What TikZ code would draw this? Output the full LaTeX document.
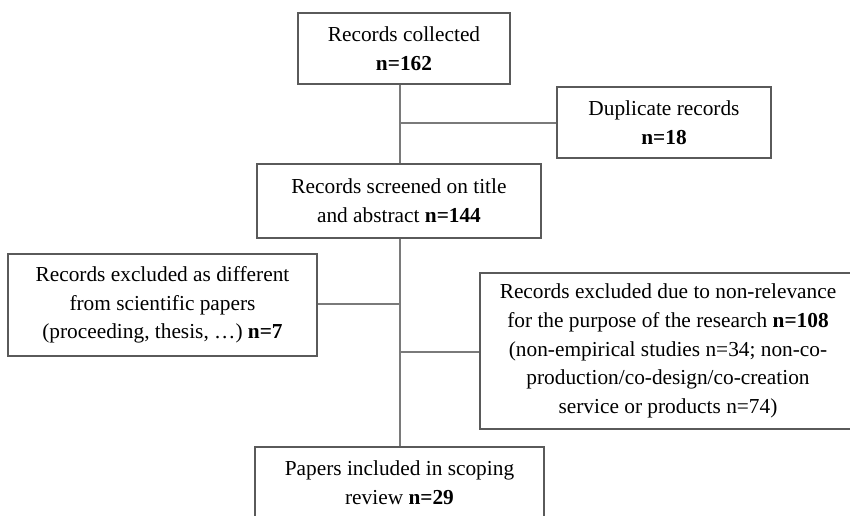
\documentclass[tikz,border=0pt]{standalone}
\usepackage{fontspec}
\setmainfont{Liberation Serif}
\definecolor{boxcol}{HTML}{5A5A5A}
\definecolor{linecol}{HTML}{7A7A7A}
\tikzset{
  box/.style={draw=boxcol, fill=white, line width=0.9pt, align=center, inner sep=0pt,
    font=\fontsize{16}{21.5}\selectfont},
  conn/.style={draw=linecol, line width=1.1pt}
}
\begin{document}
\begin{tikzpicture}[x=0.75pt,y=-0.75pt]
\useasboundingbox (0,0) rectangle (850,516);
% boxes (centres in px)
\node[box, minimum width=212*0.75pt, minimum height=71*0.75pt] (b1) at (404,48.5)
  {Records collected\\\textbf{n=162}};
\node[box, minimum width=214*0.75pt, minimum height=71*0.75pt] (b2) at (664,122.5)
  {Duplicate records\\\textbf{n=18}};
\node[box, minimum width=284*0.75pt, minimum height=74*0.75pt] (b3) at (399,201)
  {Records screened on title\\and abstract \textbf{n=144}};
\node[box, minimum width=309*0.75pt, minimum height=102*0.75pt] (b4) at (162.5,305)
  {Records excluded as different\\from scientific papers\\(proceeding, thesis, \dots) \textbf{n=7}};
\node[box, minimum width=376*0.75pt, minimum height=156*0.75pt] (b5) at (668,351)
  {Records excluded due to non-relevance\\for the purpose of the research \textbf{n=108}\\(non-empirical studies n=34; non-co-\\production/co-design/co-creation\\service or products n=74)};
\node[box, minimum width=289*0.75pt, minimum height=72*0.75pt] (b6) at (399.5,483)
  {Papers included in scoping\\review \textbf{n=29}};
% trunk coordinates
\coordinate (j1) at (400,123);
\coordinate (j2) at (400,304);
\coordinate (j3) at (400,352);
% connectors
\draw[conn] (j1 |- b1.south) -- (j1 |- b3.north);
\draw[conn] (j1 |- b3.south) -- (j1 |- b6.north);
\draw[conn] (j1) -- (b2.west |- j1);
\draw[conn] (b4.east |- j2) -- (j2);
\draw[conn] (j3) -- (b5.west |- j3);
\end{tikzpicture}
\end{document}
